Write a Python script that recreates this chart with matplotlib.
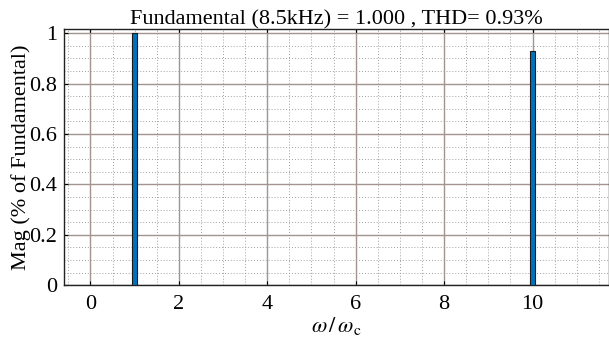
import matplotlib.pyplot as plt
from matplotlib.ticker import MultipleLocator

# datos del espectro
armonicos = [1, 10]
magnitudes = [1.0, 0.93]
titulo = "Fundamental (8.5kHz) = 1.000 , THD= 0.93%"
xticks = [0, 2, 4, 6, 8, 10]
yticks = [0, 0.2, 0.4, 0.6, 0.8, 1]

plt.rcParams['font.family'] = ['Liberation Serif', 'DejaVu Serif']
plt.rcParams['mathtext.fontset'] = 'stix'

fig = plt.figure(figsize=(6.09, 3.39), dpi=100)
ax = fig.add_axes([0.105, 0.159, 0.895, 0.755])

ax.bar(armonicos, magnitudes, width=0.1, color='#0072BD', edgecolor='#1a1a1a',
       linewidth=0.8, zorder=3)

ax.set_xlim(-0.6, 11.73)
ax.set_ylim(0, 1.016)
ax.set_xticks(xticks)
ax.set_yticks(yticks)
ax.set_yticklabels(["0", "0.2", "0.4", "0.6", "0.8", "1"])
ax.xaxis.set_minor_locator(MultipleLocator(0.5))
ax.yaxis.set_minor_locator(MultipleLocator(0.05))

ax.grid(which='major', color='#a39490', linewidth=1.0, zorder=1)
ax.grid(which='minor', color='#a0a0a0', linestyle=(0, (1, 2)), linewidth=0.7, zorder=1)
ax.tick_params(which='both', direction='in', labelsize=16, length=3, width=0.8,
               top=True)
ax.tick_params(which='minor', length=0)
ax.tick_params(axis='x', pad=7)
ax.tick_params(axis='y', pad=5)

for s in ax.spines.values():
    s.set_linewidth(1.0)
    s.set_color('#222222')

ax.set_title(titulo, fontsize=16, pad=2)
ax.set_ylabel("Mag (% of Fundamental)", fontsize=16, labelpad=-1)
ax.set_xlabel(r'$\omega\,/\,\omega_{\mathrm{c}}$', fontsize=16, labelpad=1)

fig.savefig("out.png", dpi=100)
